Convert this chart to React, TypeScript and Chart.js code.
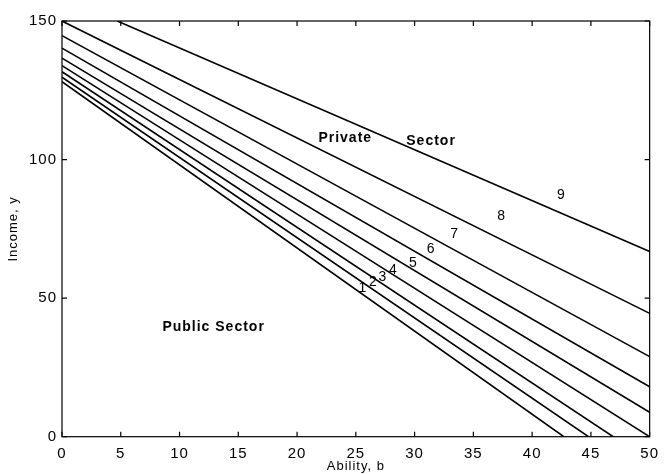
import React, { useEffect, useRef } from "react";
import { Chart, registerables } from "chart.js";

Chart.register(...registerables);

// Contour lines (income curves), read as start/end points (ability b, income y)
const startB = [0, 0, 0, 0, 0, 0, 0, 0, 4.7];
const startY = [128.1, 129.7, 131.7, 133.9, 136.6, 140.2, 144.7, 150, 150];
const endB = [42.7, 44.8, 46.9, 50, 50, 50, 50, 50, 50];
const endY = [0, 0, 0, 0, 8.8, 18.0, 28.9, 44.5, 66.8];

// Contour labels
const labelText = ["1", "2", "3", "4", "5", "6", "7", "8", "9"];
const labelB = [25.6, 26.5, 27.3, 28.2, 29.9, 31.4, 33.4, 37.4, 42.5];
const labelY = [53.7, 55.6, 57.7, 60.2, 62.5, 67.6, 73.1, 79.5, 87.2];

// Region annotations
const regionText = ["Private", "Sector", "Public Sector"];
const regionB = [24.1, 31.4, 12.9];
const regionY = [107.9, 106.8, 39.6];

const xTicks = [0, 5, 10, 15, 20, 25, 30, 35, 40, 45, 50];
const yTicks = [0, 50, 100, 150];

const FONT = "'Liberation Sans', Arial, Helvetica, sans-serif";

const spacingPlugin = {
  id: "spacing",
  beforeDraw(chart: any) {
    chart.ctx.letterSpacing = "1px";
  },
};

const framePlugin = {
  id: "frame",
  afterDatasetsDraw(chart: any) {
    const { ctx, chartArea, scales } = chart;
    const { left, right, top, bottom } = chartArea;
    ctx.save();
    ctx.strokeStyle = "#000";
    ctx.lineWidth = 1.2;
    ctx.strokeRect(left, top, right - left, bottom - top);
    const tl = 5;
    ctx.beginPath();
    xTicks.forEach((v) => {
      const px = scales.x.getPixelForValue(v);
      ctx.moveTo(px, bottom);
      ctx.lineTo(px, bottom - tl);
      ctx.moveTo(px, top);
      ctx.lineTo(px, top + tl);
    });
    yTicks.forEach((v) => {
      const py = scales.y.getPixelForValue(v);
      ctx.moveTo(left, py);
      ctx.lineTo(left + tl, py);
      ctx.moveTo(right, py);
      ctx.lineTo(right - tl, py);
    });
    ctx.stroke();

    ctx.fillStyle = "#000";
    ctx.textAlign = "center";
    ctx.textBaseline = "middle";
    ctx.letterSpacing = "1px";
    ctx.font = `14px ${FONT}`;
    labelText.forEach((t, i) => {
      ctx.fillText(t, scales.x.getPixelForValue(labelB[i]), scales.y.getPixelForValue(labelY[i]));
    });
    ctx.font = `bold 14px ${FONT}`;
    regionText.forEach((t, i) => {
      ctx.fillText(t, scales.x.getPixelForValue(regionB[i]), scales.y.getPixelForValue(regionY[i]));
    });
    ctx.restore();
  },
};

export default function App() {
  const ref = useRef<HTMLCanvasElement | null>(null);
  useEffect(() => {
    if (!ref.current) return;
    const datasets = startB.map((b, i) => ({
      data: [
        { x: b, y: startY[i] },
        { x: endB[i], y: endY[i] },
      ],
      borderColor: "#000",
      borderWidth: 1.6,
      pointRadius: 0,
      fill: false,
      tension: 0,
    }));
    const chart = new Chart(ref.current, {
      type: "line",
      data: { datasets },
      options: {
        animation: false,
        responsive: false,
        maintainAspectRatio: false,
        layout: { padding: { left: 0, top: 21, right: 7, bottom: 0 } },
        plugins: { legend: { display: false }, tooltip: { enabled: false } },
        scales: {
          x: {
            type: "linear",
            min: 0,
            max: 50,
            afterBuildTicks: (s: any) => {
              s.ticks = xTicks.map((v) => ({ value: v }));
            },
            afterFit: (s: any) => {
              s.height = 37.3;
            },
            grid: { display: false, drawTicks: false },
            border: { display: false },
            ticks: { color: "#000", font: { size: 15, family: FONT }, padding: 8, maxRotation: 0 },
            title: {
              display: true,
              text: "Ability, b",
              color: "#000",
              font: { size: 13, family: FONT },
              padding: { top: 0, bottom: 0 },
            },
          },
          y: {
            type: "linear",
            min: 0,
            max: 150,
            afterBuildTicks: (s: any) => {
              s.ticks = yTicks.map((v) => ({ value: v }));
            },
            afterFit: (s: any) => {
              s.width = 62;
            },
            grid: { display: false, drawTicks: false },
            border: { display: false },
            ticks: { color: "#000", font: { size: 15, family: FONT }, padding: 5 },
            title: {
              display: true,
              text: "Income, y",
              color: "#000",
              font: { size: 13, family: FONT },
              padding: { top: 6, bottom: 0 },
            },
          },
        },
      },
      plugins: [spacingPlugin, framePlugin],
    });
    return () => chart.destroy();
  }, []);
  return (
    <div style={{ position: "fixed", left: 0, top: 0, width: 666, height: 474, background: "#fff" }}>
      <canvas ref={ref} width={666} height={474} />
    </div>
  );
}
